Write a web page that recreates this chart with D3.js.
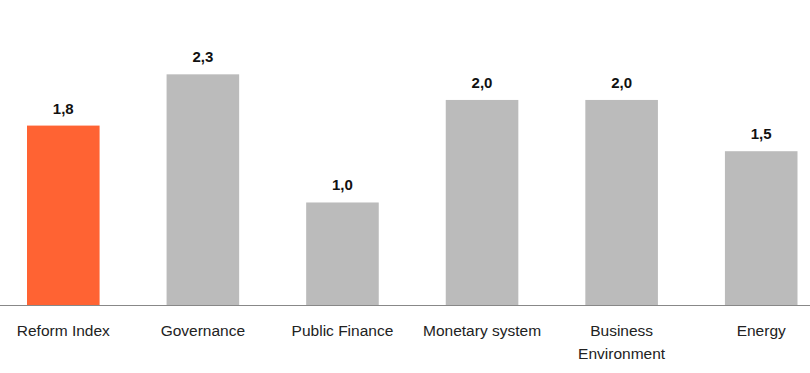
<!DOCTYPE html>
<html>
<head>
<meta charset="utf-8">
<script src="https://cdn.jsdelivr.net/npm/d3@7"></script>
<style>
  body { margin: 0; background: #fff; }
  svg { display: block; font-family: 'Liberation Sans', Arial, sans-serif; }
</style>
</head>
<body>
<svg width="810" height="373"></svg>
<script>
// Chart data
const categories = ['Reform Index', 'Governance', 'Public Finance', 'Monetary system', 'Business Environment', 'Energy']
const labelLines = [['Reform Index'], ['Governance'], ['Public Finance'], ['Monetary system'], ['Business', 'Environment'], ['Energy']]
const values = [1.75, 2.25, 1.0, 2.0, 2.0, 1.5]
const highlight = 'Reform Index'

const svg = d3.select('svg')
const width = 810
const baseY = 305

const x = d3.scaleBand()
  .domain(categories)
  .range([27, 797.5])
  .paddingInner(0.48)
  .paddingOuter(0)

const y = d3.scaleLinear()
  .domain([0, 2.975])
  .range([baseY, 0])

const fmt = v => d3.format('.1f')(v).replace('.', ',')

// Bars
svg.append('g')
  .selectAll('rect')
  .data(values)
  .enter()
  .append('rect')
  .attr('x', (d, i) => x(categories[i]))
  .attr('y', d => y(d))
  .attr('width', x.bandwidth())
  .attr('height', d => y(0) - y(d))
  .attr('fill', (d, i) => categories[i] === highlight ? '#ff6333' : '#bbbbbb')

// Value labels
svg.append('g')
  .selectAll('text')
  .data(values)
  .enter()
  .append('text')
  .attr('x', (d, i) => x(categories[i]) + x.bandwidth() / 2)
  .attr('y', d => y(d) - 12)
  .attr('text-anchor', 'middle')
  .attr('font-size', '15px')
  .attr('font-weight', 'bold')
  .attr('fill', '#111')
  .text(d => fmt(d))

// Baseline
svg.append('line')
  .attr('x1', 0)
  .attr('x2', width)
  .attr('y1', baseY + 0.5)
  .attr('y2', baseY + 0.5)
  .attr('stroke', '#888')
  .attr('stroke-width', 1)

// Category labels
const cat = svg.append('g')
  .selectAll('text')
  .data(categories)
  .enter()
  .append('text')
  .attr('text-anchor', 'middle')
  .attr('font-size', '15.5px')
  .attr('fill', '#222')

cat.selectAll('tspan')
  .data((d, i) => labelLines[i].map(t => ({ t, c: d })))
  .enter()
  .append('tspan')
  .attr('x', d => x(d.c) + x.bandwidth() / 2)
  .attr('y', (d, j) => 336 + j * 23)
  .text(d => d.t)
</script>
</body>
</html>
